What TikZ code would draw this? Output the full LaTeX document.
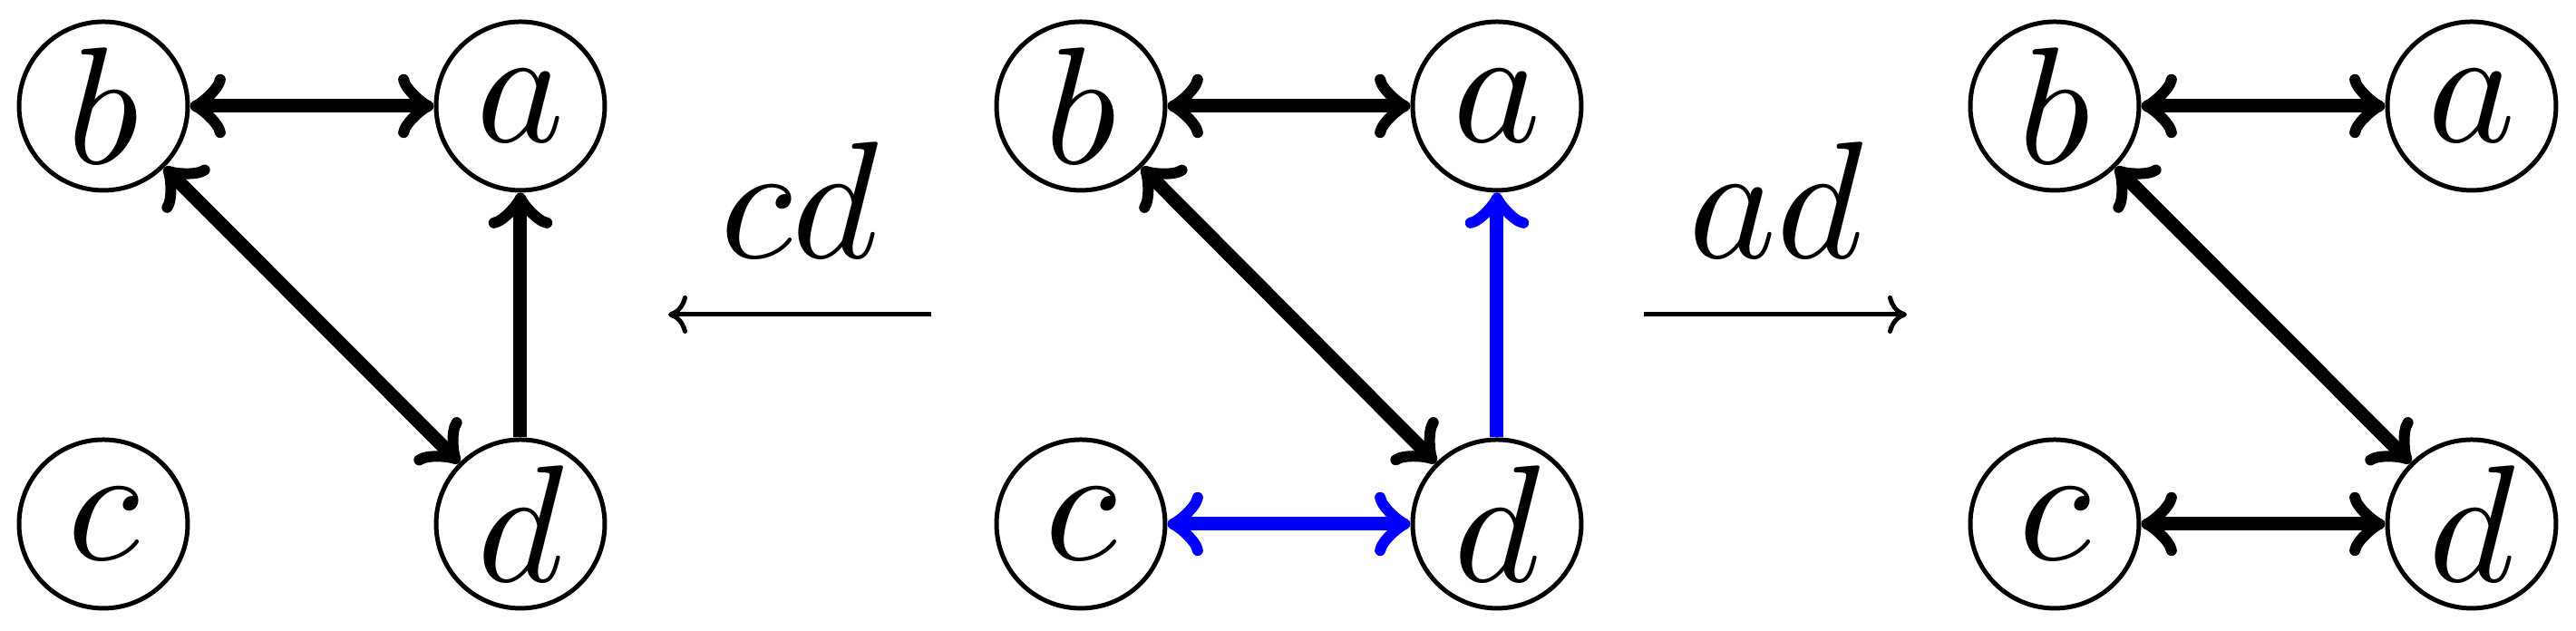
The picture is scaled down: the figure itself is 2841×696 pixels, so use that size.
\documentclass[tikz,border=0pt]{standalone}
\usepackage{graphicx}
\usetikzlibrary{arrows.meta}
\newcommand{\vlbl}[1]{\scalebox{1.84}{$#1$}}
\tikzset{
  vert/.style={circle,draw,line width=0.5pt,minimum size=18.6pt,inner sep=0pt},
  edge/.style={line width=1.5pt,>=to},
  lab/.style={line width=0.5pt,>={To[length=2.1pt,width=4.2pt]}},
  labtxt/.style={anchor=base,inner sep=0pt}
}
\begin{document}
\begin{tikzpicture}[x=0.1pt,y=-0.1pt]
\useasboundingbox (0,0) rectangle (2841,696);
% left graph
\node[vert] (b1) at (114,117) {\vlbl{b}};
\node[vert] (a1) at (574,117) {\vlbl{a}};
\node[vert] (c1) at (114,578) {\vlbl{c}};
\node[vert] (d1) at (574,578) {\vlbl{d}};
\draw[edge,<->] (b1) -- (a1);
\draw[edge,<->] (b1) -- (d1);
\draw[edge,->] (d1) -- (a1);
% middle graph
\node[vert] (b2) at (1192,117) {\vlbl{b}};
\node[vert] (a2) at (1651,117) {\vlbl{a}};
\node[vert] (c2) at (1192,578) {\vlbl{c}};
\node[vert] (d2) at (1651,578) {\vlbl{d}};
\draw[edge,<->] (b2) -- (a2);
\draw[edge,<->] (b2) -- (d2);
\draw[edge,->,blue] (d2) -- (a2);
\draw[edge,<->,blue] (c2) -- (d2);
% right graph
\node[vert] (b3) at (2266,117) {\vlbl{b}};
\node[vert] (a3) at (2726,117) {\vlbl{a}};
\node[vert] (c3) at (2266,578) {\vlbl{c}};
\node[vert] (d3) at (2726,578) {\vlbl{d}};
\draw[edge,<->] (b3) -- (a3);
\draw[edge,<->] (b3) -- (d3);
\draw[edge,<->] (c3) -- (d3);
% transition arrows
\coordinate (l1s) at (1027,347);
\coordinate (l1e) at (737,347);
\draw[lab,->] (l1s) -- (l1e);
\node[labtxt] (cd) at (882,285) {\vlbl{cd}};
\coordinate (l2s) at (1813,347);
\coordinate (l2e) at (2103,347);
\draw[lab,->] (l2s) -- (l2e);
\node[labtxt] (ad) at (1959,285) {\vlbl{ad}};
\end{tikzpicture}
\end{document}
